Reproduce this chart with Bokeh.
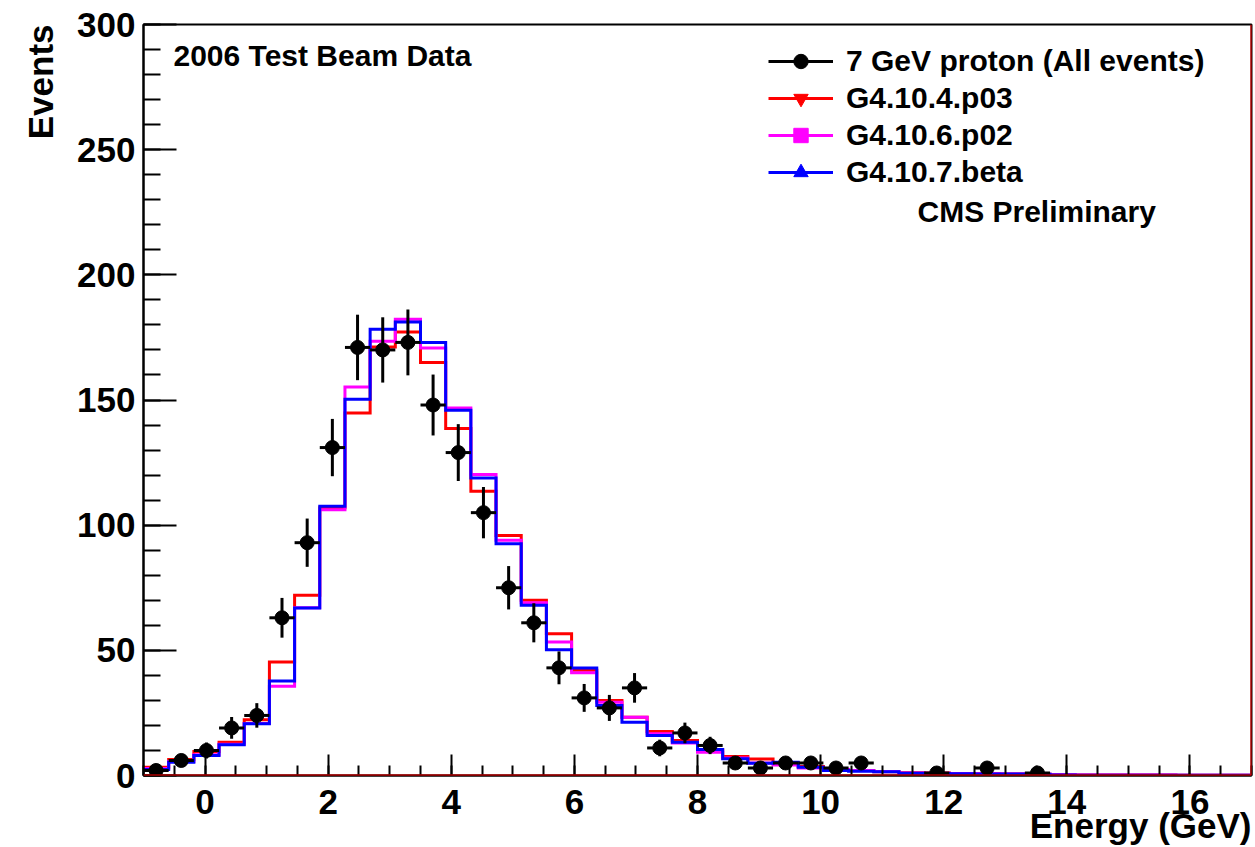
import numpy as np
from bokeh.plotting import figure
from bokeh.models import (Range1d, SingleIntervalTicker, Legend, LegendItem,
                          Label, Title, Span, ColumnDataSource)
from bokeh.embed import file_html
from bokeh.resources import INLINE

# ---- data ----
x_min, x_max, n_bins = -1.0, 17.0, 44

data_counts = [2, 6, 10, 19, 24, 63, 93, 131, 171, 170, 173, 148, 129, 105, 75,
               61, 43, 31, 27, 35, 11, 17, 12, 5, 3, 5, 5, 3, 5, 0, 0, 1, 0, 3,
               0, 1, 0, 0, 0, 0, 0, 0, 0, 0]

g4_10_4_p03 = [3.3, 6.4, 9.6, 13.3, 22.3, 45.3, 72.0, 107.0, 144.8, 171.2, 177.2,
               165.0, 138.6, 113.5, 95.9, 70.0, 56.6, 42.0, 30.0, 23.3, 17.6, 14.0,
               10.2, 7.6, 6.6, 5.0, 3.6, 2.2, 2.0, 1.5, 1.1, 1.0, 0.8, 0.7, 0.6,
               0.5, 0.3, 0.2, 0.2, 0.2, 0.2, 0.1, 0.1, 0.1]

g4_10_6_p02 = [2.8, 5.6, 8.3, 12.5, 20.8, 35.7, 67.0, 106.2, 155.2, 173.5, 182.3,
               170.8, 146.8, 120.2, 94.0, 69.0, 53.3, 41.0, 29.3, 23.3, 16.7, 13.0,
               9.3, 7.0, 5.0, 4.2, 3.0, 2.4, 2.0, 1.6, 1.0, 0.9, 0.8, 0.7, 0.6,
               0.5, 0.3, 0.2, 0.2, 0.2, 0.2, 0.1, 0.1, 0.1]

g4_10_7_beta = [2.4, 5.3, 8.0, 12.3, 20.7, 37.7, 66.9, 107.6, 150.3, 178.3, 181.2,
                173.0, 145.9, 118.8, 92.6, 68.0, 50.2, 42.9, 28.0, 21.3, 16.0, 13.3,
                10.4, 6.7, 4.9, 5.3, 3.3, 2.0, 1.7, 1.5, 0.9, 0.8, 0.7, 0.6, 0.6,
                0.5, 0.2, 0.1, 0.1, 0.1, 0.1, 0.1, 0.1, 0.1]

labels = ["7 GeV proton (All events)", "G4.10.4.p03", "G4.10.6.p02", "G4.10.7.beta"]

FONT = "Liberation Sans"

edges = np.linspace(x_min, x_max, n_bins + 1)
centers = 0.5 * (edges[:-1] + edges[1:])
counts = np.array(data_counts, dtype=float)

p = figure(width=1255, height=847, output_backend="svg", toolbar_location=None,
           x_range=Range1d(x_min, x_max), y_range=Range1d(0, 300),
           min_border_left=143, min_border_right=4, min_border_top=24,
           min_border_bottom=72)
p.background_fill_color = "white"
p.border_fill_color = "white"
p.xgrid.visible = False
p.ygrid.visible = False
p.outline_line_color = "black"
p.outline_line_width = 2

p.xaxis.ticker = SingleIntervalTicker(interval=2, num_minor_ticks=4)
p.yaxis.ticker = SingleIntervalTicker(interval=50, num_minor_ticks=5)
for ax in (p.xaxis[0], p.yaxis[0]):
    ax.axis_line_width = 2
    ax.major_tick_line_width = 2
    ax.minor_tick_line_width = 2
    ax.major_tick_out = 0
    ax.minor_tick_out = 0
    ax.major_label_text_font = FONT
    ax.major_label_text_font_style = "bold"
    ax.major_label_text_font_size = "35px"
    ax.major_label_text_color = "black"
p.xaxis.major_tick_in = 21
p.xaxis.minor_tick_in = 10
p.xaxis.major_label_standoff = 14
p.yaxis.major_tick_in = 33
p.yaxis.minor_tick_in = 17
p.yaxis.major_label_standoff = 8

# baseline / right-edge red lines as in the original
p.add_layout(Span(location=0, dimension="width", line_color="red", line_width=2))
p.add_layout(Span(location=edges[-1], dimension="height", line_color="red", line_width=2))

# ---- simulation histograms ----
hist_renderers = []
marker_renderers = []
for vals, col, mk in [(g4_10_4_p03, "#ff0000", "inverted_triangle"),
                      (g4_10_6_p02, "#ff00ff", "square"),
                      (g4_10_7_beta, "#0000ff", "triangle")]:
    v = np.array(vals, dtype=float)
    r = p.step(edges, np.append(v, v[-1]), mode="after", line_color=col,
               line_width=3, line_join="miter")
    hist_renderers.append(r)
    # legend-only marker (NaN position: never drawn in the plot area)
    m = p.scatter(x=[np.nan], y=[np.nan], marker=mk, size=14,
                  fill_color=col, line_color=col)
    marker_renderers.append(m)

# ---- data points ----
mask = counts > 0
err = np.sqrt(counts[mask])
src = ColumnDataSource(dict(x=centers[mask], y=counts[mask],
                            lo=counts[mask] - err, hi=counts[mask] + err,
                            xl=edges[:-1][mask], xr=edges[1:][mask]))
vseg = p.segment(x0="x", y0="lo", x1="x", y1="hi", source=src, line_color="black", line_width=3)
hseg = p.segment(x0="xl", y0="y", x1="xr", y1="y", source=src, line_color="black", line_width=3)
pts = p.scatter(x="x", y="y", source=src, marker="circle", size=14,
                fill_color="black", line_color="black")

legend = Legend(items=[
    LegendItem(label=labels[0], renderers=[hseg, pts], index=0),
    LegendItem(label=labels[1], renderers=[hist_renderers[0], marker_renderers[0]], index=0),
    LegendItem(label=labels[2], renderers=[hist_renderers[1], marker_renderers[1]], index=0),
    LegendItem(label=labels[3], renderers=[hist_renderers[2], marker_renderers[2]], index=0),
], location=(615, 575))
legend.glyph_width = 65
legend.glyph_height = 36
legend.label_height = 36
legend.spacing = 1
legend.padding = 10
legend.margin = 0
legend.label_standoff = 13
legend.border_line_alpha = 0
legend.background_fill_alpha = 0
legend.label_text_font = FONT
legend.label_text_font_style = "bold"
legend.label_text_font_size = "30px"
legend.label_text_color = "black"
p.add_layout(legend)

# ---- texts ----
p.add_layout(Label(x=30, y=720, x_units="screen", y_units="screen",
                   text="2006 Test Beam Data", text_font=FONT, text_font_style="bold",
                   text_font_size="30px", text_baseline="alphabetic", text_color="black"))
p.add_layout(Label(x=774, y=564, x_units="screen", y_units="screen",
                   text="CMS Preliminary", text_font=FONT, text_font_style="bold",
                   text_font_size="30px", text_baseline="alphabetic", text_color="black"))

xtitle = Title(text="Energy (GeV)", align="right", text_font=FONT, text_font_style="bold",
               text_font_size="35px", text_color="black", standoff=-25)
p.add_layout(xtitle, "below")

ytitle = Title(text="Events", align="right", text_font=FONT, text_font_style="bold",
               text_font_size="35px", text_color="black", standoff=30)
p.add_layout(ytitle, "left")

open("out.html", "w").write(file_html(p, INLINE))
